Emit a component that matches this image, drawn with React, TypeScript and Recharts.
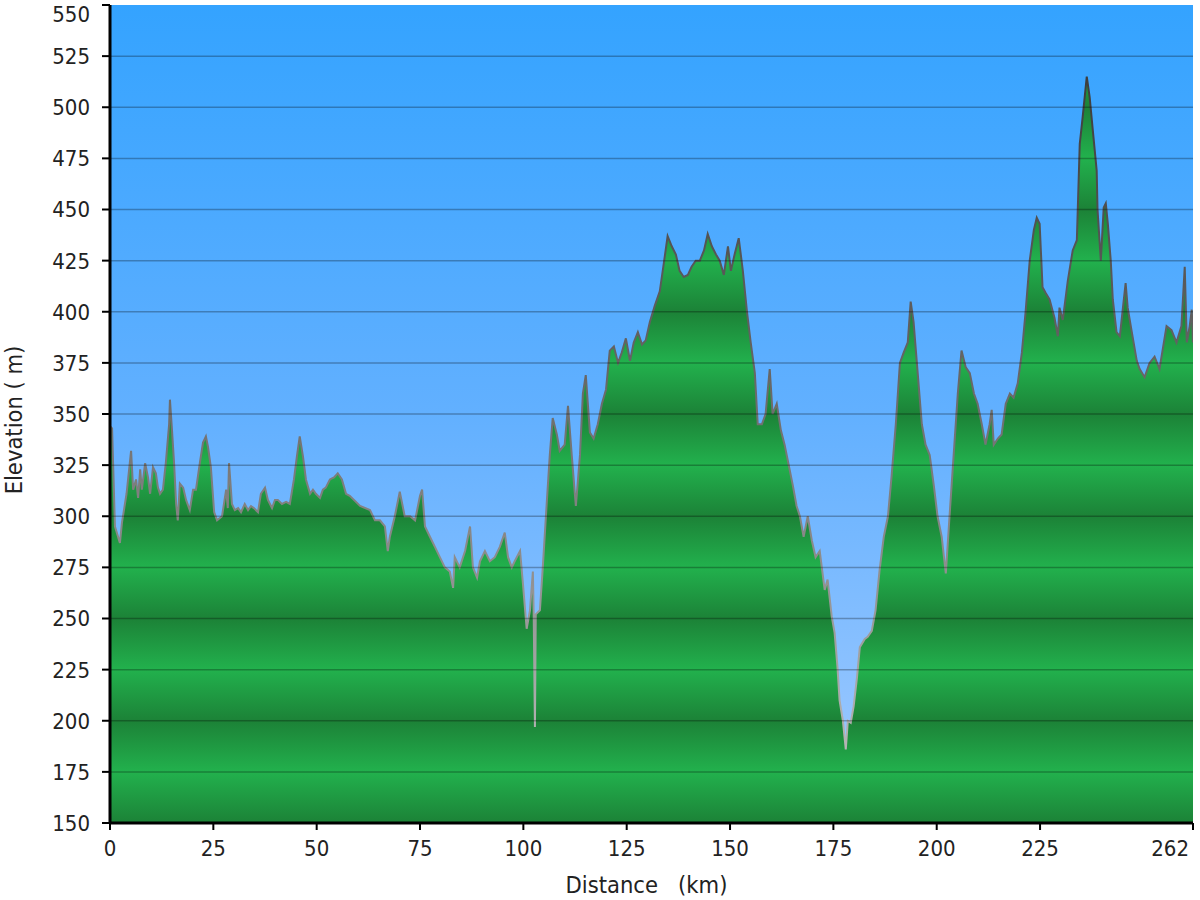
import React from 'react';
import { AreaChart, Area, XAxis, YAxis, ReferenceLine, CartesianGrid, Label } from 'recharts';

const distanceKm = [
  0, 0.5, 1.2, 2.4, 2.9, 4.0, 5.1, 5.6, 6.3, 6.8,
  7.3, 7.7, 8.5, 9.2, 9.7, 10.4, 11.1, 11.6, 12.1, 12.8,
  13.5, 14.3, 14.5, 15.0, 15.5, 16.0, 16.4, 16.9, 17.7, 18.4,
  19.3, 20.1, 20.8, 21.8, 22.5, 23.2, 23.7, 24.4, 25.2, 25.9,
  27.1, 28.1, 28.5, 28.8, 29.5, 30.2, 31.0, 31.7, 32.6, 33.4,
  34.1, 34.8, 35.8, 36.5, 37.5, 38.2, 39.2, 39.9, 40.6, 41.6,
  42.6, 43.5, 44.5, 45.2, 45.9, 46.7, 47.4, 48.4, 49.1, 49.8,
  50.8, 51.5, 52.2, 53.2, 54.2, 55.1, 56.1, 57.1, 58.0, 60.5,
  62.9, 64.1, 65.3, 66.5, 67.2, 67.7, 68.9, 70.1, 71.3, 72.6,
  73.8, 75.0, 75.5, 76.2, 77.4, 78.6, 79.8, 81.0, 82.2, 83.0,
  83.4, 84.6, 85.9, 87.1, 87.8, 88.8, 89.5, 90.7, 91.9, 93.1,
  94.3, 95.5, 96.3, 97.2, 97.9, 99.2, 99.9, 100.8, 101.6, 102.3,
  102.5, 102.8, 103.0, 104.0, 104.7, 105.7, 106.4, 107.1, 108.1, 108.8,
  110.0, 110.8, 111.7, 112.7, 113.7, 114.4, 115.1, 116.1, 117.0, 118.0,
  119.0, 120.0, 120.9, 121.9, 122.9, 123.8, 124.8, 125.8, 126.7, 127.7,
  128.7, 129.6, 130.6, 131.8, 133.0, 134.0, 134.9, 135.9, 136.9, 137.8,
  138.8, 139.8, 140.7, 141.7, 142.7, 143.7, 144.6, 145.6, 146.6, 147.5,
  148.5, 149.5, 150.2, 151.1, 152.1, 153.1, 154.1, 155.0, 156.0, 156.7,
  157.7, 158.6, 159.6, 160.3, 161.3, 162.3, 163.2, 164.2, 165.2, 166.1,
  166.9, 167.8, 168.8, 169.8, 170.7, 171.7, 172.2, 172.9, 173.6, 174.6,
  175.3, 176.0, 176.5, 177.3, 178.0, 178.5, 179.2, 179.9, 180.7, 181.4,
  182.6, 183.3, 184.3, 185.2, 186.2, 187.2, 188.2, 189.1, 190.1, 191.1,
  192.0, 193.0, 193.7, 194.4, 195.4, 196.4, 197.3, 198.3, 199.3, 200.2,
  201.2, 202.2, 203.1, 204.1, 205.1, 206.0, 207.0, 208.0, 209.0, 209.9,
  210.9, 211.8, 212.8, 213.3, 213.8, 214.8, 215.7, 216.7, 217.7, 218.6,
  219.6, 220.6, 221.5, 222.5, 223.5, 224.2, 224.9, 225.6, 226.4, 227.3,
  228.5, 229.3, 229.7, 230.5, 231.7, 232.9, 233.9, 234.6, 235.3, 236.3,
  237.0, 237.7, 238.7, 238.9, 239.7, 240.4, 240.9, 241.4, 242.1, 242.6,
  243.5, 244.3, 245.0, 245.7, 246.2, 247.2, 248.4, 249.1, 250.3, 251.5,
  252.7, 253.9, 255.6, 256.8, 258.0, 259.2, 260.0, 260.5, 261.2, 261.7,
  262.0,
];

const elevationM = [
  344, 343, 295, 287, 297, 311, 332, 313, 318, 309,
  323, 313, 326, 319, 311, 324, 321, 314, 311, 313,
  326, 345, 357, 342, 326, 306, 298, 316, 314, 308,
  303, 313, 313, 327, 336, 339, 334, 324, 302, 298,
  300, 313, 304, 326, 306, 303, 304, 302, 306, 303,
  305, 304, 302, 311, 314, 308, 304, 308, 308, 306,
  307, 306, 318, 329, 339, 329, 318, 311, 313, 311,
  309, 313, 314, 318, 319, 321, 318, 311, 310, 305,
  303, 298, 298, 295, 283, 290, 300, 312, 300, 300,
  298, 310, 313, 295, 290, 285, 280, 275, 273, 265,
  280, 275, 283, 295, 275, 270, 278, 283, 278, 280,
  285, 292, 280, 275, 278, 283, 267, 245, 254, 273,
  252, 197, 252, 254, 275, 308, 330, 348, 340, 332,
  335, 354, 330, 305, 330, 360, 369, 341, 338, 345,
  355, 362, 381, 383, 375, 380, 387, 376, 385, 390,
  384, 386, 395, 403, 410, 424, 437, 432, 428, 420,
  417, 418, 422, 425, 425, 430, 438, 432, 428, 425,
  418, 432, 420, 428, 436, 420, 400, 385, 370, 345,
  345, 350, 372, 350, 355, 342, 335, 325, 315, 305,
  300, 290, 300, 288, 280, 283, 275, 264, 269, 251,
  243, 226, 210, 200, 186, 200, 199, 207, 221, 236,
  240, 241, 244, 254, 274, 290, 300, 320, 345, 375,
  380, 385, 405, 395, 370, 345, 335, 330, 315, 300,
  290, 272, 300, 330, 360, 381, 373, 370, 360, 355,
  345, 335, 345, 352, 335, 338, 340, 355, 360, 358,
  365, 380, 400, 425, 440, 446, 443, 412, 409, 406,
  397, 388, 402, 396, 415, 430, 435, 482, 495, 515,
  505, 490, 469, 450, 425, 451, 453, 443, 425, 406,
  390, 388, 401, 414, 402, 390, 376, 372, 368, 375,
  378, 372, 393, 391, 385, 393, 422, 385, 393, 401,
  385,
];

const xTicks = [0, 25, 50, 75, 100, 125, 150, 175, 200, 225, 262];
const yTicks = [150, 175, 200, 225, 250, 275, 300, 325, 350, 375, 400, 425, 450, 475, 500, 525, 550];

const data = distanceKm.map((d, i) => ({ d, e: elevationM[i] }));

const W = 1200;
const H = 900;
const X_AXIS_HEIGHT = 77;
const MARGIN = { top: 5, right: 7, bottom: 0, left: 0 };
const PLOT_TOP = MARGIN.top;
const PLOT_BOTTOM = H - MARGIN.bottom - X_AXIS_HEIGHT;
const Y_MIN = 150;
const Y_MAX = 550;
const FONT = '"DejaVu Sans Condensed", "DejaVu Sans", sans-serif';
const LIGHT_GREEN = '#22b14d';
const DARK_GREEN = '#1c8237';

const YTick = (props: any) => {
  const { x, y, payload } = props;
  const yy = Math.max(y, 14);
  return (
    <text x={x} y={yy} dy="0.36em" textAnchor="end" fill="#222" fontSize={22} fontFamily={FONT} style={{ fontStretch: 'condensed' }}>
      {payload.value}
    </text>
  );
};

const XTick = (props: any) => {
  const { x, y, payload } = props;
  const last = payload.value === xTicks[xTicks.length - 1];
  return (
    <text x={last ? x - 4 : x} y={y} dy="0.71em" textAnchor={last ? 'end' : 'middle'} fill="#222" fontSize={22} fontFamily={FONT} style={{ fontStretch: 'condensed' }}>
      {payload.value}
    </text>
  );
};

const YTitle = (props: any) => {
  const vb = props.viewBox || { x: 0, y: PLOT_TOP, width: 110, height: PLOT_BOTTOM - PLOT_TOP };
  const cx = vb.x + 14;
  const cy = vb.y + vb.height / 2 + 6;
  return (
    <text x={cx} y={cy} transform={`rotate(-90 ${cx} ${cy})`} textAnchor="middle" dominantBaseline="central" fill="#222" fontSize={23.5} fontFamily={FONT} style={{ fontStretch: 'condensed', whiteSpace: 'pre' }}>
      Elevation ( m)
    </text>
  );
};

const XTitle = (props: any) => {
  const vb = props.viewBox || { x: 110, y: PLOT_BOTTOM, width: 1083, height: X_AXIS_HEIGHT };
  const cx = vb.x + vb.width / 2 - 5;
  const cy = vb.y + 70;
  return (
    <text x={cx} y={cy} textAnchor="middle" fill="#222" fontSize={23.5} fontFamily={FONT} style={{ fontStretch: 'condensed', whiteSpace: 'pre' }}>
      {'Distance   (km)'}
    </text>
  );
};

const bandStops = yTicks
  .slice()
  .reverse()
  .map((v) => ({
    offset: (Y_MAX - v) / (Y_MAX - Y_MIN),
    color: v % 50 === 25 ? LIGHT_GREEN : DARK_GREEN,
  }));

export default function App() {
  return (
    <div style={{ position: 'absolute', left: 0, top: 0, width: W, height: H, background: '#fff' }}>
      <AreaChart width={W} height={H} data={data} margin={MARGIN}>
        <defs>
          <linearGradient id="sky" gradientUnits="userSpaceOnUse" x1="0" y1={PLOT_TOP} x2="0" y2={PLOT_BOTTOM}>
            <stop offset="0" stopColor="#34a3ff" />
            <stop offset="0.5" stopColor="#62b0ff" />
            <stop offset="1" stopColor="#a3cbff" />
          </linearGradient>
          <linearGradient id="bands" gradientUnits="userSpaceOnUse" x1="0" y1={PLOT_TOP} x2="0" y2={PLOT_BOTTOM}>
            {bandStops.map((s, i) => (
              <stop key={i} offset={s.offset} stopColor={s.color} />
            ))}
          </linearGradient>
          <linearGradient id="edge" gradientUnits="userSpaceOnUse" x1="0" y1={PLOT_TOP} x2="0" y2={PLOT_BOTTOM}>
            <stop offset="0" stopColor="#333333" />
            <stop offset="0.45" stopColor="#666666" />
            <stop offset="1" stopColor="#c4c4c4" />
          </linearGradient>
        </defs>
        <CartesianGrid fill="url(#sky)" horizontal={false} vertical={false} stroke="none" />
        <XAxis
          dataKey="d"
          type="number"
          domain={[0, 262]}
          ticks={xTicks}
          interval={0}
          allowDataOverflow
          height={X_AXIS_HEIGHT}
          tickSize={7}
          tickMargin={10}
          axisLine={{ stroke: '#000', strokeWidth: 3 }}
          tickLine={{ stroke: '#000', strokeWidth: 2 }}
          tick={<XTick />}
        >
          <Label content={<XTitle />} />
        </XAxis>
        <YAxis
          type="number"
          domain={[Y_MIN, Y_MAX]}
          ticks={yTicks}
          interval={0}
          allowDataOverflow
          width={110}
          tickSize={8}
          tickMargin={12}
          axisLine={{ stroke: '#000', strokeWidth: 3 }}
          tickLine={{ stroke: '#000', strokeWidth: 2 }}
          tick={<YTick />}
        >
          <Label content={<YTitle />} />
        </YAxis>
        <Area
          type="linear"
          dataKey="e"
          stroke="url(#edge)"
          strokeWidth={2}
          fill="url(#bands)"
          fillOpacity={1}
          dot={false}
          activeDot={false}
          isAnimationActive={false}
        />
        {yTicks
          .filter((v) => v > Y_MIN && v < Y_MAX)
          .map((v) => (
            <ReferenceLine key={v} y={v} stroke="#000" strokeOpacity={0.28} strokeWidth={1.5} />
          ))}
      </AreaChart>
    </div>
  );
}
